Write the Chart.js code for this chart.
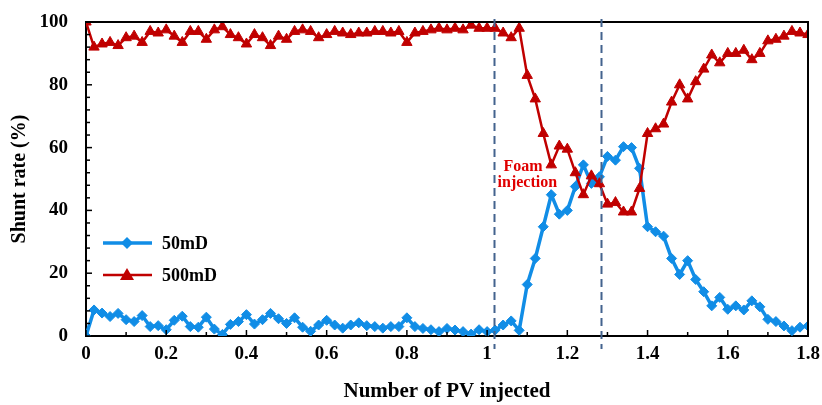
<!DOCTYPE html>
<html>
<head>
<meta charset="utf-8">
<script src="https://cdn.jsdelivr.net/npm/chart.js@4.4.1/dist/chart.umd.min.js"></script>
<style>
html,body{margin:0;padding:0;background:#fff;}
#wrap{width:822px;height:405px;position:relative;}
</style>
</head>
<body>
<div id="wrap"><canvas id="c" width="822" height="405"></canvas></div>
<script>
const pvInjected = [0,0.02,0.04,0.06,0.08,0.1,0.12,0.14,0.16,0.18,0.2,0.22,0.24,0.26,0.28,0.3,0.32,0.34,0.36,0.38,0.4,0.42,0.44,0.46,0.48,0.5,0.52,0.54,0.56,0.58,0.6,0.62,0.64,0.66,0.68,0.7,0.72,0.74,0.76,0.78,0.8,0.82,0.84,0.86,0.88,0.9,0.92,0.94,0.96,0.98,1,1.02,1.04,1.06,1.08,1.1,1.12,1.14,1.16,1.18,1.2,1.22,1.24,1.26,1.28,1.3,1.32,1.34,1.36,1.38,1.4,1.42,1.44,1.46,1.48,1.5,1.52,1.54,1.56,1.58,1.6,1.62,1.64,1.66,1.68,1.7,1.72,1.74,1.76,1.78,1.8];
const shunt50mD = [0,8.3,7.3,6.2,7.2,5.2,4.6,6.5,3,3.3,2,5,6.3,3,2.8,6,2.2,0.5,3.7,4.6,6.8,3.8,5.2,7.2,5.5,4,5.8,2.8,1.5,3.5,5,3.5,2.5,3.5,4.2,3.3,3,2.5,3,3,5.8,3,2.4,2,1.4,2.4,1.9,1.4,0.6,2,1.4,1.9,3.5,4.8,1.8,16.4,24.7,34.8,45,38.8,40,47.6,54.5,48.6,50.7,57.2,56,60.3,60,53.4,34.8,33.2,31.8,24.7,19.6,24,18,14.1,9.6,12.3,8.5,9.6,8.3,11.2,9.3,5.3,4.6,3.2,1.7,2.8,3.2];
const shunt500mD = [100,92,93,93.5,92.5,95,95.5,93.5,97,96.5,97.5,95.5,93.5,97,97,94.5,97.5,98.5,96,95,93,96,95,92.5,95.5,94.5,97,97.5,97,95,96,97,96.5,96,96.5,96.5,97,97,96.5,97,93.5,96.5,97,97.5,98,97.5,98,97.5,99,98,98,98,96.5,95,98,83,75.5,64.5,54.5,60.5,59.5,52,45,51,48.5,42,42.5,39.5,39.5,47,64.5,66,67.5,74.5,80,75.5,81,85,89.5,87,90,90,91,88,90,94,94.5,95.5,97,96.5,96];
const xTickLabels = ['0','0.2','0.4','0.6','0.8','1','1.2','1.4','1.6','1.8'];
const yTickLabels = ['0','20','40','60','80','100'];
const seriesNames = ['50mD','500mD'];
const dashedLinesAt = [1.016, 1.283];
const annotationLines = ['Foam','injection'];
const annotationAt = {x: 1.026, y: [53.8, 48.9]};

const BLUE = '#118DE6';
const RED = '#C00000';
const FONT = '"Liberation Serif", "Times New Roman", serif';

const pts = arr => pvInjected.map((x,i)=>({x:x, y:arr[i]}));

const extras = {
  id:'extras',
  afterDatasetsDraw(chart){
    const ctx = chart.ctx, ca = chart.chartArea;
    const xs = chart.scales.x, ys = chart.scales.y;
    ctx.save();
    ctx.strokeStyle = '#000'; ctx.lineWidth = 2;
    ctx.beginPath();
    ctx.moveTo(ca.left, ca.top); ctx.lineTo(ca.right, ca.top); ctx.lineTo(ca.right, ca.bottom);
    ctx.stroke();
    ctx.lineWidth = 1.5;
    for (let k=0;k<=18;k++){
      const v = k*0.1; const px = xs.getPixelForValue(v);
      const len = (k%2===0)?6:4;
      ctx.beginPath(); ctx.moveTo(px, ca.bottom); ctx.lineTo(px, ca.bottom-len); ctx.stroke();
    }
    for (let k=0;k<=25;k++){
      const v = k*4; const py = ys.getPixelForValue(v);
      const len = (k%5===0)?6:4;
      ctx.beginPath(); ctx.moveTo(ca.left, py); ctx.lineTo(ca.left+len, py); ctx.stroke();
    }
    ctx.strokeStyle = '#43638E'; ctx.lineWidth = 2; ctx.setLineDash([8,5]);
    dashedLinesAt.forEach(v=>{
      const px = Math.round(xs.getPixelForValue(v))+0.5;
      ctx.beginPath(); ctx.moveTo(px, ca.top-3); ctx.lineTo(px, ca.bottom+13); ctx.stroke();
    });
    ctx.setLineDash([]);
    ctx.fillStyle = '#E00000';
    ctx.font = 'bold 16px ' + FONT;
    ctx.textBaseline = 'middle'; ctx.textAlign = 'left';
    const ax = xs.getPixelForValue(annotationAt.x);
    ctx.fillText(annotationLines[0], ax+6, ys.getPixelForValue(annotationAt.y[0]));
    ctx.fillText(annotationLines[1], ax, ys.getPixelForValue(annotationAt.y[1]));
    const legendRows = [{y:243, color:BLUE, style:'diamond', lw:3.5},{y:275, color:RED, style:'tri', lw:2.5}];
    ctx.font = 'bold 18px ' + FONT;
    legendRows.forEach((r,i)=>{
      ctx.strokeStyle = r.color; ctx.lineWidth = r.lw;
      ctx.beginPath(); ctx.moveTo(103, r.y); ctx.lineTo(152, r.y); ctx.stroke();
      ctx.fillStyle = r.color;
      ctx.beginPath();
      if (r.style==='diamond'){
        ctx.moveTo(127, r.y-6); ctx.lineTo(133, r.y); ctx.lineTo(127, r.y+6); ctx.lineTo(121, r.y);
      } else {
        ctx.moveTo(127, r.y-7); ctx.lineTo(134, r.y+5); ctx.lineTo(120, r.y+5);
      }
      ctx.closePath(); ctx.fill();
      ctx.fillStyle = '#000';
      ctx.fillText(chart.data.datasets[i].label, 162, r.y+1);
    });
    ctx.restore();
  }
};

new Chart(document.getElementById('c'), {
  type:'line',
  data:{
    datasets:[
      {label:seriesNames[0], data:pts(shunt50mD), borderColor:BLUE, backgroundColor:BLUE, borderWidth:3.5,
       pointStyle:'rectRot', pointRadius:5, pointBorderWidth:1, pointBorderColor:BLUE, order:2, tension:0},
      {label:seriesNames[1], data:pts(shunt500mD), borderColor:RED, backgroundColor:RED, borderWidth:2.5,
       pointStyle:'triangle', pointRadius:6, pointBorderWidth:1, pointBorderColor:RED, order:1, tension:0}
    ]
  },
  options:{
    responsive:false, animation:false, devicePixelRatio:1,
    layout:{padding:{top:22,right:14,left:0,bottom:0}},
    plugins:{legend:{display:false}, tooltip:{enabled:false}},
    scales:{
      x:{type:'linear', min:0, max:1.8,
        afterFit(s){ s.height = 69; s.paddingLeft = 0; s.paddingRight = 0; },
        afterBuildTicks(s){ s.ticks = xTickLabels.map((t,i)=>({value:i*0.2})); },
        ticks:{stepSize:0.2, padding:7, color:'#000', font:{family:FONT, size:19, weight:'bold'}, maxRotation:0,
          callback:(v)=>xTickLabels[Math.round(v/0.2)]},
        grid:{display:true, drawOnChartArea:false, drawTicks:false},
        border:{display:true, color:'#000', width:2},
        title:{display:true, text:'Number of PV injected', color:'#000', font:{family:FONT, size:21, weight:'bold'}, padding:{top:0,bottom:1}}
      },
      y:{min:0, max:100,
        afterFit(s){ s.width = 86; s.paddingTop = 0; s.paddingBottom = 0; },
        ticks:{stepSize:20, padding:18, color:'#000', font:{family:FONT, size:19, weight:'bold'},
          callback:(v)=>yTickLabels[Math.round(v/20)]},
        grid:{display:true, drawOnChartArea:false, drawTicks:false},
        border:{display:true, color:'#000', width:2},
        title:{display:true, text:'Shunt rate (%)', color:'#000', font:{family:FONT, size:20, weight:'bold'}, padding:{top:8,bottom:0}}
      }
    }
  },
  plugins:[extras]
});
</script>
</body>
</html>
